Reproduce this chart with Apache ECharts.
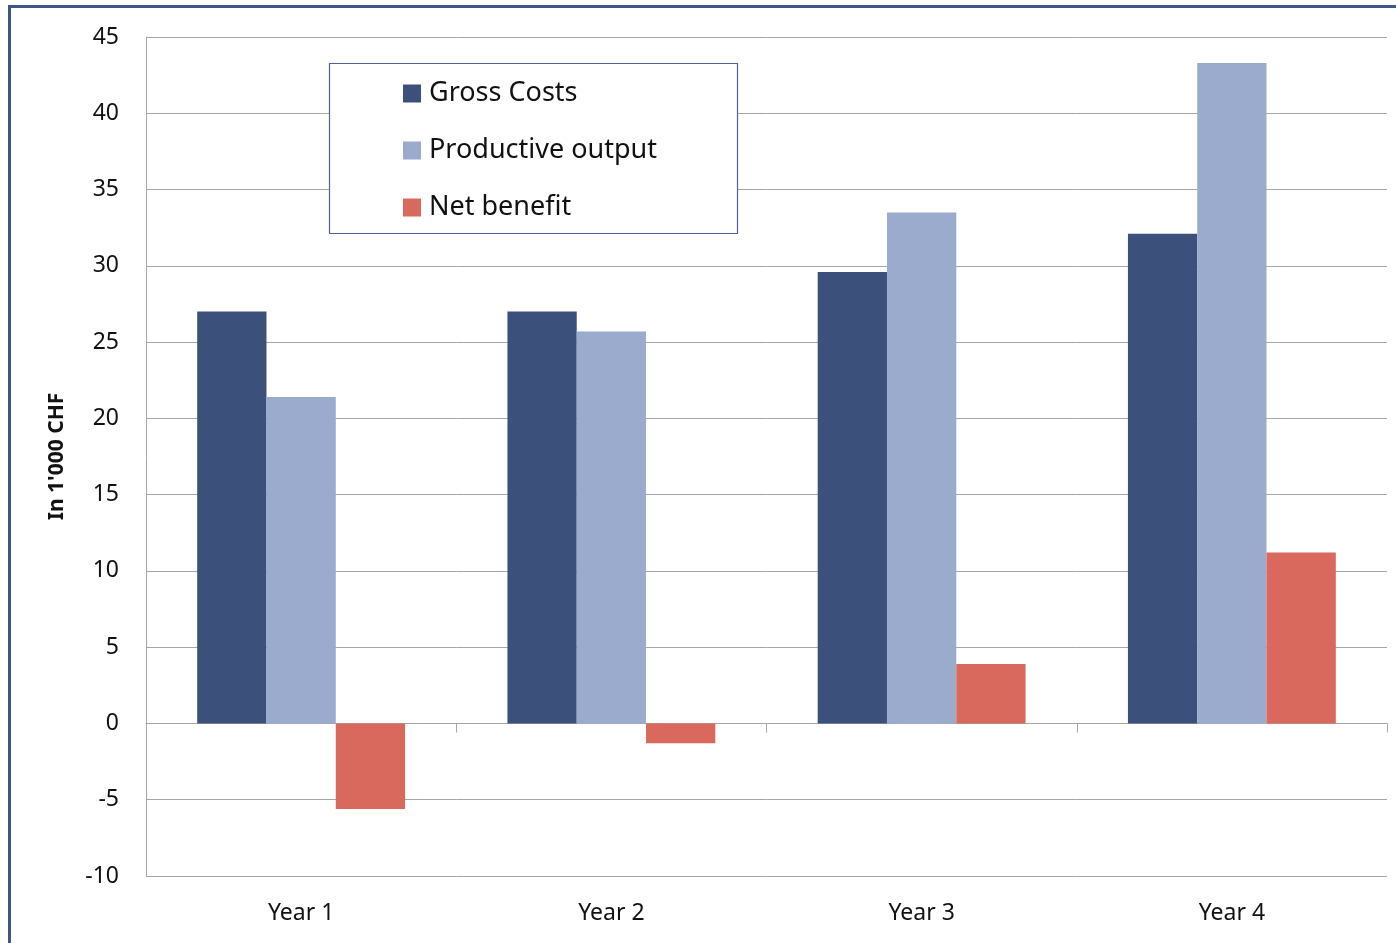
<!DOCTYPE html>
<html>
<head>
<meta charset="utf-8">
<script src="https://cdn.jsdelivr.net/npm/echarts@6/dist/echarts.min.js"></script>
<style>
  html, body { margin: 0; padding: 0; background: #fff; }
  #chart { width: 1396px; height: 943px; }
</style>
</head>
<body>
<div id="chart"></div>
<script>
// Yearly figures, in thousands of CHF
const years = ['Year 1', 'Year 2', 'Year 3', 'Year 4'];
const grossCosts = [27.0, 27.0, 29.6, 32.1];
const productiveOutput = [21.4, 25.7, 33.5, 43.3];
const netBenefit = [-5.6, -1.3, 3.9, 11.2];
const yTicks = { min: -10, max: 45, interval: 5 };

const FONT = 'Noto Sans';
const GRID_COLOR = '#a6a6a6';

const chart = echarts.init(document.getElementById('chart'), null, { renderer: 'canvas' });

chart.setOption({
  animation: false,
  backgroundColor: '#ffffff',
  textStyle: { fontFamily: FONT },
  grid: { left: 146, right: 9, top: 37, bottom: 67, containLabel: false },
  legend: {
    orient: 'vertical',
    left: 398,
    top: 75,
    itemWidth: 18,
    itemHeight: 18,
    itemGap: 30,
    icon: 'rect',
    textStyle: { fontFamily: FONT, fontSize: 27, color: '#111', padding: [0, 0, 0, 3] },
    data: ['Gross Costs', 'Productive output', 'Net benefit']
  },
  xAxis: [
    {
      // category labels along the bottom edge
      type: 'category',
      data: years,
      position: 'bottom',
      axisLine: { show: false, onZero: false },
      axisTick: { show: false },
      axisLabel: { fontFamily: FONT, fontSize: 23, color: '#111', margin: 26 }
    },
    {
      // the zero line with boundary ticks
      type: 'category',
      data: years,
      position: 'bottom',
      axisLine: { show: true, onZero: true, lineStyle: { color: GRID_COLOR, width: 1 } },
      axisTick: { show: true, length: 9, lineStyle: { color: GRID_COLOR } },
      axisLabel: { show: false }
    }
  ],
  yAxis: {
    type: 'value',
    min: yTicks.min,
    max: yTicks.max,
    interval: yTicks.interval,
    name: "In 1'000 CHF",
    nameLocation: 'middle',
    nameGap: 78,
    nameTextStyle: { fontFamily: FONT, fontSize: 21, fontWeight: 'bold', color: '#111' },
    axisLine: { show: true, lineStyle: { color: GRID_COLOR, width: 1 } },
    axisTick: { show: false },
    axisLabel: { fontFamily: FONT, fontSize: 23, color: '#111', margin: 27, padding: [7, 0, 0, 0] },
    splitLine: { show: true, lineStyle: { color: GRID_COLOR, width: 1 } }
  },
  series: [
    {
      name: 'Gross Costs', type: 'bar', xAxisIndex: 0, data: grossCosts,
      itemStyle: { color: '#3c507c' }, barGap: '0%', barCategoryGap: '33%'
    },
    {
      name: 'Productive output', type: 'bar', xAxisIndex: 0, data: productiveOutput,
      itemStyle: { color: '#9aabcd' }, barGap: '0%', barCategoryGap: '33%'
    },
    {
      name: 'Net benefit', type: 'bar', xAxisIndex: 0, data: netBenefit,
      itemStyle: { color: '#d9695c' }, barGap: '0%', barCategoryGap: '33%'
    }
  ],
  graphic: [
    {
      // outer frame of the chart area
      type: 'rect', z: 100, silent: true,
      shape: { x: 9.5, y: 6.5, width: 1500, height: 1000 },
      style: { fill: 'none', stroke: '#3f5586', lineWidth: 3 }
    },
    {
      // legend box
      type: 'rect', z: 1, silent: true,
      shape: { x: 329.5, y: 63.5, width: 408, height: 170 },
      style: { fill: '#ffffff', stroke: '#4f6394', lineWidth: 1.2 }
    }
  ]
});
</script>
</body>
</html>
